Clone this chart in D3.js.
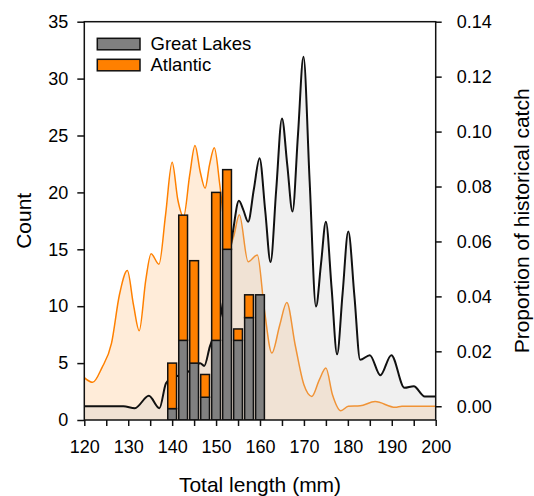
<!DOCTYPE html>
<html>
<head>
<meta charset="utf-8">
<script src="https://cdn.jsdelivr.net/npm/d3@7"></script>
<style>
  html, body { margin: 0; padding: 0; background: #fff; }
  svg { display: block; }
  text { font-family: "Liberation Sans", Arial, sans-serif; fill: #000; }
</style>
</head>
<body>
<svg id="chart" width="534" height="496"></svg>
<script>
// ---- Data ----
const binCenters = [140, 142.5, 145, 147.5, 150, 152.5, 155, 157.5, 160];
const greatLakesCounts = [1, 7, 5, 2, 7, 15, 7, 9, 11];
const atlanticCounts = [4, 11, 9, 2, 13, 7, 1, 2, 0];

// historical catch proportion curves (length mm, proportion)
const atlanticHistLength = [120, 121.9, 124, 126.2, 128, 129.8, 131.2, 132.5, 134, 135.2, 137, 138.5, 140, 141.3, 142.6, 144, 145.2, 146.4, 147.5, 148.5, 149.6, 150.9, 152.7, 154, 155.3, 157.3, 159.4, 161, 162.7, 164.5, 166.1, 168, 170, 171.8, 173.5, 175, 176.5, 178.4, 180.1, 182.8, 186.2, 190.8, 192.3, 200];
const atlanticHistProp = [0.0104, 0.0087, 0.014, 0.0230, 0.0406, 0.0494, 0.0369, 0.0275, 0.046, 0.0555, 0.0517, 0.0697, 0.0888, 0.0751, 0.0690, 0.0842, 0.0949, 0.0853, 0.0794, 0.0878, 0.0941, 0.0800, 0.0569, 0.0618, 0.0697, 0.0526, 0.0551, 0.0351, 0.0194, 0.0296, 0.0378, 0.0224, 0.0078, 0.0036, 0.0096, 0.0139, 0.0042, -0.0016, 0.0, 0.0002, 0.0017, -0.0004, 0.0, 0.0];

const lakesHistLength = [120, 128.9, 131.5, 134.7, 137.1, 138.6, 140, 141.4, 143.8, 146.4, 147.3, 148.6, 150, 151.1, 152.5, 153.9, 155.2, 156.2, 157.3, 158.6, 159.9, 161.2, 162.4, 163.7, 165, 166.2, 167.4, 168.65, 169.9, 171.3, 172.75, 173.9, 175, 176.3, 177.55, 178.8, 180.1, 181.5, 182.8, 185, 187.4, 189.9, 192.9, 195, 197.5, 200];
const lakesHistProp = [0.0, 0.0, -0.0007, 0.0038, -0.0007, 0.0084, 0.0104, 0.0111, 0.0127, 0.0157, 0.0147, 0.0218, 0.0278, 0.0336, 0.0478, 0.0642, 0.0748, 0.0715, 0.0672, 0.079, 0.0903, 0.071, 0.0525, 0.079, 0.1048, 0.088, 0.0709, 0.099, 0.1272, 0.082, 0.0363, 0.052, 0.0672, 0.043, 0.0189, 0.041, 0.0636, 0.040, 0.0169, 0.0186, 0.0113, 0.0186, 0.0067, 0.0073, 0.0036, 0.0036];

const xTicksMajor = [120, 130, 140, 150, 160, 170, 180, 190, 200];
const xTicksMinor = [125, 135, 145, 155, 165, 175, 185, 195];
const yLeftTicks = [0, 5, 10, 15, 20, 25, 30, 35];
const yRightTicks = [0, 0.02, 0.04, 0.06, 0.08, 0.10, 0.12, 0.14];

const seriesNames = ["Great Lakes", "Atlantic"];
const seriesColors = ["#808080", "#ff8000"];

// ---- Layout ----
const svg = d3.select("#chart");
const L = 84.3, R = 435.7, T = 21.7, B = 420;

const x = d3.scaleLinear().domain([120, 200]).range([L, R]);
const yL = d3.scaleLinear().domain([0, 35]).range([B, T]);
const yR = d3.scaleLinear().domain([-0.005, 0.14]).range([B, T]);

svg.append("clipPath").attr("id", "plotclip")
  .append("rect").attr("x", L).attr("y", T).attr("width", R - L).attr("height", B - T);

const plot = svg.append("g").attr("clip-path", "url(#plotclip)");

const atlPts = atlanticHistLength.map((d, i) => [d, atlanticHistProp[i]]);
const lakPts = lakesHistLength.map((d, i) => [d, lakesHistProp[i]]);

const area = d3.area().curve(d3.curveMonotoneX)
  .x(d => x(d[0])).y0(B).y1(d => yR(d[1]));
const line = d3.line().curve(d3.curveMonotoneX)
  .x(d => x(d[0])).y(d => yR(d[1]));

// Atlantic historical
plot.append("path").datum(atlPts).attr("d", area)
  .attr("fill", "#ff8000").attr("fill-opacity", 0.15);
plot.append("path").datum(atlPts).attr("d", line)
  .attr("fill", "none").attr("stroke", "#ff8000").attr("stroke-width", 1.5);

// Great Lakes historical
plot.append("path").datum(lakPts).attr("d", area)
  .attr("fill", "#c8c8c8").attr("fill-opacity", 0.27);
plot.append("path").datum(lakPts).attr("d", line)
  .attr("fill", "none").attr("stroke", "#111").attr("stroke-width", 2);

// Stacked bars
const stackData = binCenters.map((c, i) => ({ c, gl: greatLakesCounts[i], at: atlanticCounts[i] }));
const barW = x(122) - x(120);
const bars = plot.append("g");
stackData.forEach(d => {
  bars.append("rect")
    .attr("x", x(d.c) - barW / 2).attr("width", barW)
    .attr("y", yL(d.gl)).attr("height", yL(0) - yL(d.gl))
    .attr("fill", seriesColors[0]).attr("stroke", "#111").attr("stroke-width", 1.5);
  if (d.at > 0) {
    bars.append("rect")
      .attr("x", x(d.c) - barW / 2).attr("width", barW)
      .attr("y", yL(d.gl + d.at)).attr("height", yL(d.gl) - yL(d.gl + d.at))
      .attr("fill", seriesColors[1]).attr("stroke", "#111").attr("stroke-width", 1.5);
  }
});

// ---- Axes ----
const axisColor = "#111";
svg.append("rect").attr("x", L).attr("y", T).attr("width", R - L).attr("height", B - T)
  .attr("fill", "none").attr("stroke", axisColor).attr("stroke-width", 1.5);

const xAxis = svg.append("g").attr("transform", `translate(0,${B})`)
  .call(d3.axisBottom(x).tickValues(xTicksMajor.concat(xTicksMinor)).tickSize(6).tickPadding(4)
    .tickFormat(d => xTicksMajor.includes(d) ? d : ""));
const yAxisL = svg.append("g").attr("transform", `translate(${L},0)`)
  .call(d3.axisLeft(yL).tickValues(yLeftTicks).tickSize(7).tickPadding(9));
const yAxisR = svg.append("g").attr("transform", `translate(${R},0)`)
  .call(d3.axisRight(yR).tickValues(yRightTicks).tickSize(6).tickPadding(15).tickFormat(d3.format(".2f")));

[xAxis, yAxisL, yAxisR].forEach(g => {
  g.select(".domain").remove();
  g.selectAll(".tick line").attr("stroke", axisColor).attr("stroke-width", 1.5);
  g.selectAll(".tick text").attr("font-family", "Liberation Sans, Arial, sans-serif")
    .attr("font-size", 18).attr("fill", "#000");
});
xAxis.selectAll(".tick text").attr("dy", "0.75em").attr("y", 19);

// Axis titles
svg.append("text").attr("x", (L + R) / 2).attr("y", 492).attr("text-anchor", "middle")
  .attr("font-size", 21).text("Total length (mm)");
svg.append("text").attr("transform", `translate(31,${(T + B) / 2}) rotate(-90)`)
  .attr("text-anchor", "middle").attr("font-size", 21).text("Count");
svg.append("text").attr("transform", `translate(529,${(T + B) / 2}) rotate(-90)`)
  .attr("text-anchor", "middle").attr("font-size", 21).text("Proportion of historical catch");

// Legend
const legend = svg.append("g");
seriesNames.forEach((n, i) => {
  legend.append("rect").attr("x", 97.3).attr("y", 38.3 + i * 21).attr("width", 42.7).attr("height", 11.5)
    .attr("fill", seriesColors[i]).attr("stroke", "#111").attr("stroke-width", 1.5);
  legend.append("text").attr("x", 150.5).attr("y", 50 + i * 20.5).attr("font-size", 18.5).text(n);
});
</script>
</body>
</html>
